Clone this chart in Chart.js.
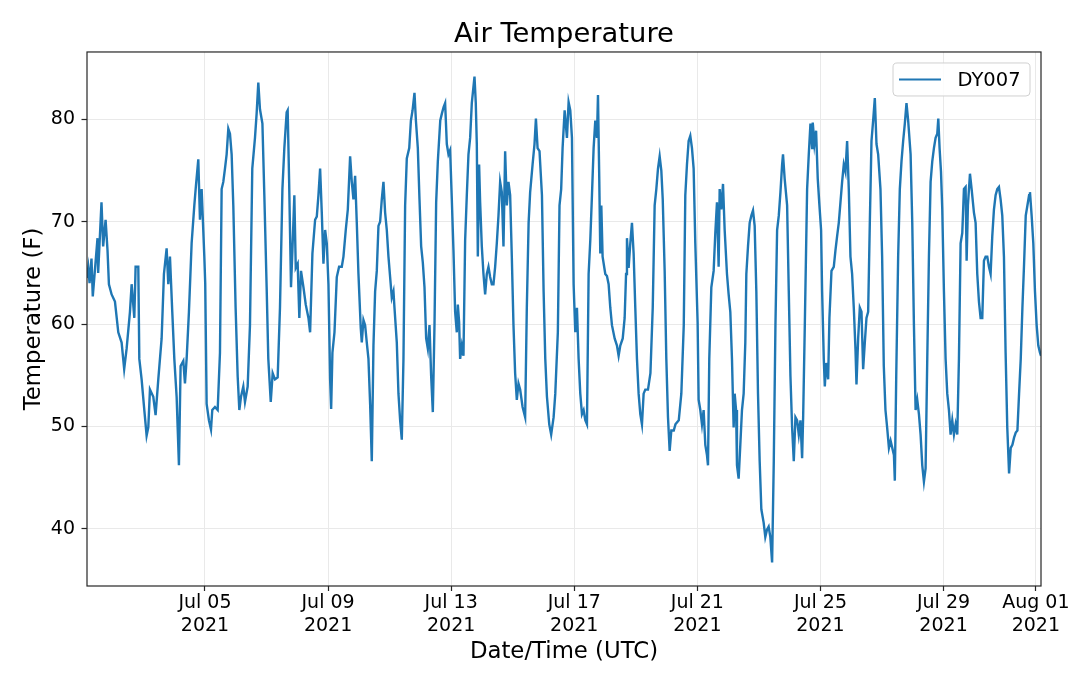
<!DOCTYPE html>
<html>
<head>
<meta charset="utf-8">
<script src="https://cdn.jsdelivr.net/npm/chart.js@4.4.1/dist/chart.umd.min.js"></script>
<style>
html,body{margin:0;padding:0;background:#ffffff;}
#wrap{width:1080px;height:686px;position:relative;}
</style>
</head>
<body>
<div id="wrap"><canvas id="c" width="1080" height="686"></canvas></div>
<script>
// ---- data (x = hours since 2021-07-01 00:00 UTC) ----
const seriesLabel = 'DY007';
const chartTitle = 'Air Temperature';
const xAxisTitle = 'Date/Time (UTC)';
const yAxisTitle = 'Temperature (F)';

const hours = [
4.0,5.0,6.0,7.5,8.5,10.0,12.2,12.7,15.3,16.6,18.5,20.0,21.1,23.2,25.8,28.4,31.0,33.0,34.9,37.5,38.8,40.9,41.9,44.0,44.8,46.6,48.7,50.5,51.8,53.1,55.7,57.5,59.6,62.2,64.0,66.1,67.4,68.7,70.5,72.1,73.9,75.7,77.0,79.1,80.4,81.7,83.5,85.6,87.7,89.0,90.8,92.1,93.4,95.5,
96.2,97.3,99.1,100.7,101.7,103.8,105.9,107.7,109.0,110.3,111.6,112.9,114.2,115.5,116.8,118.1,119.9,121.5,122.8,124.1,125.9,127.2,129.3,131.1,132.9,135.0,136.3,137.6,138.9,140.8,142.3,144.1,145.4,147.3,148.8,150.6,152.7,154.5,156.4,157.9,159.7,160.5,161.6,163.1,164.2,165.7,166.8,168.3,169.6,170.9,172.8,174.6,176.7,178.0,179.8,181.9,183.2,184.5,185.8,187.1,188.4,
189.7,191.0,192.3,193.6,194.4,195.4,197.0,198.8,200.6,202.7,204.0,205.8,207.4,209.2,210.5,211.8,213.1,214.4,215.7,217.5,218.3,219.6,220.9,222.2,223.5,224.8,226.1,227.4,228.7,230.0,231.3,232.6,233.9,235.2,236.5,237.8,239.1,240.4,241.7,243.0,243.8,245.6,246.9,248.2,249.5,250.8,252.1,253.4,255.3,256.6,257.9,259.4,260.5,262.0,263.3,264.6,265.9,267.2,268.5,269.8,271.1,272.4,273.7,275.0,276.3,277.6,279.5,280.8,282.1,
283.3,284.6,285.9,287.2,288.5,289.8,291.1,292.4,293.2,294.2,295.0,296.3,297.6,298.9,300.2,301.5,302.8,304.1,306.2,307.2,308.0,308.8,309.8,310.6,311.9,313.2,314.5,315.8,317.1,318.4,319.7,321.0,322.3,323.6,324.9,326.2,327.5,328.8,330.1,331.4,332.7,334.0,335.3,336.6,337.9,339.2,340.5,341.8,343.7,345.7,347.0,348.4,349.6,351.5,353.0,354.1,355.4,356.9,358.8,360.1,361.4,362.7,364.5,366.0,367.9,369.2,371.2,372.5,373.8,374.9,
376.5,378.3,379.6,380.9,382.2,383.5,384.8,386.1,387.4,388.7,390.0,391.3,392.6,393.9,395.2,396.5,397.8,399.1,400.4,401.7,402.5,403.5,404.3,405.1,406.1,408.2,409.5,410.8,412.1,413.4,415.5,417.3,418.6,419.9,421.8,423.3,424.4,425.1,426.4,427.7,429.0,430.3,431.6,432.9,434.2,435.5,436.8,438.1,439.4,441.5,443.4,445.2,446.7,448.0,449.3,450.6,451.9,453.0,454.5,455.8,457.1,458.4,459.7,461.6,462.9,465.5,467.5,469.4,
470.6,471.9,473.2,474.5,475.8,477.1,478.4,480.2,481.0,482.3,483.6,484.9,486.2,487.5,488.3,489.3,490.9,492.7,494.0,495.3,496.6,497.4,498.7,500.0,501.3,503.1,504.4,505.7,507.0,508.3,509.1,510.2,510.9,512.2,513.5,514.8,516.1,517.4,518.2,519.5,520.8,522.1,523.4,524.7,526.0,527.3,528.6,529.9,531.7,533.0,534.3,535.6,536.9,538.3,539.6,540.9,542.2,543.5,544.8,546.1,546.8,548.1,550.0,551.3,552.6,553.9,555.2,556.5,557.8,559.1,560.4,561.7,562.5,563.8,
565.6,566.9,568.2,569.5,570.0,571.3,572.6,573.9,575.2,576.5,577.3,578.6,579.4,580.4,582.0,583.0,584.6,586.4,587.7,589.0,590.3,591.6,592.9,594.2,595.5,596.8,598.1,599.4,600.7,602.0,603.3,604.1,605.4,606.7,608.0,609.3,610.6,611.9,613.2,614.5,615.8,617.1,618.4,619.7,621.0,622.8,624.1,625.4,626.7,628.0,629.4,630.7,632.0,633.3,634.0,635.1,636.6,637.9,639.2,640.5,641.8,643.1,644.4,646.3,647.6,648.9,650.2,651.5,652.8,654.1,655.4,656.7,
658.0,659.3,660.6,661.9,663.2,664.5,665.8,667.1,667.9,668.9,670.0,671.0,672.3,673.6,674.9,676.2,677.5,678.8,680.1,681.4,682.7,684.0,685.3,686.6,687.9,689.2,690.0,691.0,692.6,693.9,695.7,697.0,698.3,699.6,700.9,702.2,703.5,704.8,706.1,707.4,708.7,710.0,711.3,712.6,713.9,715.2,716.5,717.8,719.1,720.4,721.7,723.1,724.4,725.7,727.0,728.3,729.6,730.9,732.2,733.5,734.8,736.1,737.4,738.7,739.4,740.7,742.0,743.3,744.6,745.9,747.2,748.0
];

const temps = [
64.5,65.5,64.0,66.4,62.7,65.0,68.4,65.0,71.9,67.6,70.2,67.2,63.9,62.9,62.2,59.2,58.2,55.6,57.6,61.2,63.9,60.6,65.6,65.6,56.6,54.6,51.6,49.1,49.9,53.6,52.9,51.1,54.6,58.6,64.9,67.4,63.9,66.6,61.2,56.6,52.9,46.2,55.9,56.4,54.2,56.6,61.2,67.9,71.6,73.6,76.1,70.2,73.2,66.6,
64.0,52.2,50.6,49.7,51.6,51.9,51.6,57.2,73.2,73.9,75.2,76.6,79.1,78.6,76.6,71.6,61.6,54.9,51.6,52.9,53.9,52.4,53.9,59.9,75.2,78.2,80.6,83.6,81.0,79.6,72.6,63.6,56.6,52.4,55.2,54.6,54.8,61.6,73.2,77.2,80.7,80.9,74.2,63.6,67.2,72.6,65.5,65.9,60.6,65.2,63.6,61.9,60.6,59.2,66.9,70.2,70.5,72.6,75.2,70.9,65.9,
69.2,67.9,63.9,54.6,51.7,57.2,59.2,64.6,65.6,65.6,66.6,69.2,71.2,76.4,73.9,72.2,74.5,69.9,64.9,59.6,58.2,60.4,59.9,58.2,56.6,52.2,46.6,57.9,63.2,65.2,69.6,70.0,72.2,73.9,70.9,69.2,66.6,64.6,62.6,63.2,61.6,58.2,53.2,50.6,48.7,56.6,71.6,76.2,77.2,79.9,80.9,82.6,79.9,77.2,72.2,67.6,66.0,63.6,58.6,57.6,59.9,54.9,51.4,59.9,71.9,75.9,79.9,80.6,81.2,
81.6,77.6,76.6,77.0,72.2,67.2,61.2,59.2,61.9,60.2,56.6,57.9,56.9,68.2,72.6,76.6,78.2,81.6,84.2,81.6,77.6,66.6,75.6,71.9,67.6,64.9,62.9,64.9,65.6,64.6,63.9,63.9,65.6,67.9,70.6,73.9,72.9,67.6,76.9,71.6,73.9,72.6,66.6,59.9,55.2,52.6,54.2,53.6,51.9,50.9,61.6,69.9,72.9,75.6,77.6,80.1,77.2,76.9,72.6,63.2,56.6,52.9,50.2,49.2,50.9,53.2,59.2,71.6,73.2,77.2,
80.9,78.2,81.7,80.9,78.2,63.9,59.2,61.6,56.6,53.2,51.2,51.6,50.6,50.2,64.9,68.2,72.6,77.2,79.9,78.2,82.4,74.2,66.9,71.6,66.6,64.9,64.7,63.9,61.6,59.9,58.6,57.9,56.9,57.9,58.6,60.6,64.9,68.4,65.5,67.9,69.9,66.9,61.6,56.6,53.2,51.2,50.2,53.2,53.6,53.6,55.2,61.6,71.6,73.2,75.2,76.4,75.0,72.2,65.2,56.6,50.9,47.6,49.6,49.6,50.2,50.6,53.2,59.9,
72.6,75.6,77.9,78.4,77.2,75.2,67.9,60.2,52.6,51.6,50.2,51.6,48.2,47.2,46.2,56.6,63.6,65.2,68.9,71.9,65.6,73.2,71.2,73.7,69.2,64.9,62.9,61.2,56.6,49.9,53.2,51.6,46.2,44.9,48.2,51.6,53.2,58.2,64.9,67.6,69.9,70.6,71.1,69.6,63.2,53.2,46.6,41.9,40.6,39.2,39.9,40.2,39.2,36.7,46.6,59.9,69.2,70.6,72.9,75.6,76.6,74.2,71.6,63.2,54.9,49.9,46.6,50.9,50.6,49.2,50.6,46.9,50.9,59.9,
73.2,76.6,79.6,77.2,79.7,77.6,78.9,74.2,71.6,69.2,63.2,56.6,53.9,56.2,54.6,60.6,65.2,65.6,67.2,68.6,69.9,71.9,73.9,75.6,74.9,77.9,73.2,66.6,64.9,61.6,57.6,54.1,58.6,61.6,61.2,55.6,58.2,60.6,61.2,69.9,77.9,79.9,82.1,77.6,76.6,73.2,66.6,55.9,51.6,49.9,47.9,48.6,47.9,47.2,44.7,54.9,66.6,73.2,75.9,77.9,79.6,81.6,79.9,76.6,69.9,59.9,51.6,52.6,51.2,49.2,46.2,44.6,
45.9,56.6,66.6,73.9,75.9,77.2,78.2,78.6,80.1,77.2,74.9,71.2,63.2,56.6,53.2,51.6,49.2,50.6,49.2,50.2,49.2,56.6,67.9,68.9,73.2,73.4,66.2,71.6,74.7,73.2,70.9,69.9,64.9,62.2,60.6,60.6,66.2,66.6,66.6,65.6,64.9,68.6,71.2,72.6,73.2,73.4,72.2,70.6,66.6,57.2,49.9,45.4,47.9,48.2,48.9,49.4,49.6,53.2,56.6,61.6,65.9,70.6,71.6,72.6,72.9,70.6,67.9,63.2,59.9,57.9,57.2,56.9
];

const xMinHour = 4;
const xMaxHour = 748;
const yMin = 34.4;
const yMax = 86.6;
const xTickHours = [96, 192, 288, 384, 480, 576, 672, 744];
const xTickLabels = [
  ['Jul 05','2021'], ['Jul 09','2021'], ['Jul 13','2021'], ['Jul 17','2021'],
  ['Jul 21','2021'], ['Jul 25','2021'], ['Jul 29','2021'], ['Aug 01','2021']
];
const yTickValues = [40, 50, 60, 70, 80];

// ---- styling ----
const FONT = 'DejaVu Sans';
const LINE_COLOR = '#1f77b4';

const points = hours.map((h, i) => ({ x: h, y: temps[i] }));

const framePlugin = {
  id: 'frame',
  afterDatasetsDraw(chart) {
    const { ctx, chartArea: a } = chart;
    ctx.save();
    ctx.strokeStyle = '#262626';
    ctx.lineWidth = 1.2;
    ctx.strokeRect(a.left, a.top, a.right - a.left, a.bottom - a.top);
    ctx.restore();
  }
};

const legendPlugin = {
  id: 'boxLegend',
  afterDraw(chart) {
    const { ctx, chartArea: a } = chart;
    const ds = chart.data.datasets[0];
    const bw = 137, bh = 33;
    const bx = a.right - 11 - bw, by = a.top + 11;
    ctx.save();
    const r = 4;
    ctx.beginPath();
    ctx.moveTo(bx + r, by);
    ctx.lineTo(bx + bw - r, by);
    ctx.quadraticCurveTo(bx + bw, by, bx + bw, by + r);
    ctx.lineTo(bx + bw, by + bh - r);
    ctx.quadraticCurveTo(bx + bw, by + bh, bx + bw - r, by + bh);
    ctx.lineTo(bx + r, by + bh);
    ctx.quadraticCurveTo(bx, by + bh, bx, by + bh - r);
    ctx.lineTo(bx, by + r);
    ctx.quadraticCurveTo(bx, by, bx + r, by);
    ctx.closePath();
    ctx.fillStyle = 'rgba(255,255,255,0.85)';
    ctx.fill();
    ctx.strokeStyle = '#d0d0d0';
    ctx.lineWidth = 1;
    ctx.stroke();
    const cy = by + bh / 2;
    ctx.beginPath();
    ctx.moveTo(bx + 6, cy);
    ctx.lineTo(bx + 48, cy);
    ctx.strokeStyle = ds.borderColor;
    ctx.lineWidth = 2;
    ctx.stroke();
    ctx.fillStyle = '#000';
    ctx.font = '19.5px "' + FONT + '"';
    ctx.textBaseline = 'middle';
    ctx.textAlign = 'left';
    ctx.fillText(ds.label, bx + 64.5, cy + 1);
    ctx.restore();
  }
};

new Chart(document.getElementById('c'), {
  type: 'line',
  data: {
    datasets: [{
      label: seriesLabel,
      data: points,
      borderColor: LINE_COLOR,
      backgroundColor: LINE_COLOR,
      borderWidth: 2.4,
      pointRadius: 0,
      tension: 0,
      fill: false
    }]
  },
  options: {
    responsive: false,
    animation: false,
    devicePixelRatio: 1,
    layout: { padding: { left: 0, right: 39, top: 0, bottom: 0 } },
    plugins: {
      legend: { display: false },
      tooltip: { enabled: false },
      title: {
        display: true,
        fullSize: false,
        text: chartTitle,
        color: '#000',
        font: { family: FONT, size: 27.4, weight: 'normal', lineHeight: 1.2 },
        padding: { top: 18.5, bottom: 0.6 }
      }
    },
    scales: {
      x: {
        type: 'linear',
        min: xMinHour,
        max: xMaxHour,
        afterBuildTicks: (s) => { s.ticks = xTickHours.map(v => ({ value: v })); },
        afterFit: (s) => { s.height = 100; },
        ticks: {
          autoSkip: false,
          maxRotation: 0,
          minRotation: 0,
          color: '#000',
          padding: 1,
          font: { family: FONT, size: 19, lineHeight: 1.19 },
          callback: (v) => {
            const i = xTickHours.indexOf(v);
            return i >= 0 ? xTickLabels[i] : '';
          }
        },
        grid: { color: '#e9e9e9', lineWidth: 1, tickColor: '#262626', tickLength: 5, tickWidth: 1.2 },
        border: { display: false },
        title: {
          display: true,
          text: xAxisTitle,
          color: '#000',
          font: { family: FONT, size: 22.8, lineHeight: 1.2 },
          padding: { top: 0, bottom: 20 }
        }
      },
      y: {
        type: 'linear',
        min: yMin,
        max: yMax,
        afterBuildTicks: (s) => { s.ticks = yTickValues.map(v => ({ value: v })); },
        afterFit: (s) => { s.width = 87; },
        ticks: {
          color: '#000',
          padding: 6.5,
          font: { family: FONT, size: 19 },
          callback: (v) => String(v)
        },
        grid: { color: '#e9e9e9', lineWidth: 1, tickColor: '#262626', tickLength: 5.5, tickWidth: 1.2 },
        border: { display: false },
        title: {
          display: true,
          text: yAxisTitle,
          color: '#000',
          font: { family: FONT, size: 22.8, lineHeight: 1.2 },
          padding: { top: 20, bottom: 0 }
        }
      }
    }
  },
  plugins: [framePlugin, legendPlugin]
});
</script>
</body>
</html>
